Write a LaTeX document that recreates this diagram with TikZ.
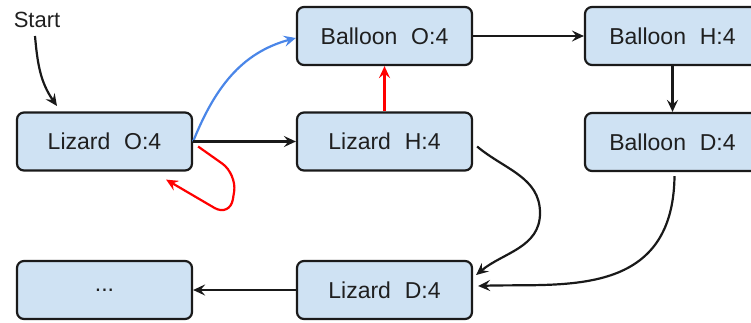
\documentclass[tikz,border=0pt]{standalone}
\usepackage{fontspec}
\setmainfont{Liberation Sans}
\usetikzlibrary{arrows.meta,calc}
\definecolor{boxfill}{HTML}{CFE2F3}
\definecolor{boxline}{HTML}{1A1A1A}
\definecolor{bluearc}{HTML}{4A86E8}
\definecolor{redarc}{HTML}{FF0000}
\begin{document}
\begin{tikzpicture}[x=1pt,y=-1pt,
  state/.style={draw=boxline,fill=boxfill,line width=2.2pt,rounded corners=7pt,
    minimum width=175pt,minimum height=58pt,inner sep=0pt,
    font=\fontsize{23}{26}\selectfont,text=black!88},
  arr/.style={line width=2.2pt,draw=black!90,
    -{Stealth[length=12pt,width=11pt,inset=4.5pt]}},
  bluetip/.style={-{Stealth[length=12pt,width=11pt,inset=4.5pt,color=bluearc]}},
  redtip/.style={-{Stealth[length=12pt,width=11pt,inset=4.5pt,color=redarc]}}]
\useasboundingbox (0,0) rectangle (751,322);
\clip (0,0) rectangle (751,322);

% states
\node[state] (LO) at (104.5,141.5) {Lizard\hspace{0.6em}O:4};
\node[state] (BO) at (384.5,36)    {Balloon\hspace{0.6em}O:4};
\node[state] (LH) at (384.5,141.5) {Lizard\hspace{0.6em}H:4};
\node[state] (BH) at (672.5,36)    {Balloon\hspace{0.6em}H:4};
\node[state] (BD) at (672.5,142)   {Balloon\hspace{0.6em}D:4};
\node[state] (LD) at (384.5,290)   {Lizard\hspace{0.6em}D:4};
\node[state] (DT) at (104.5,290)   {...};

% start marker
\node[font=\fontsize{22}{24}\selectfont,inner sep=0pt,text=black!88] (start) at (37,20) {Start};
\coordinate (startend) at (57,106);
\draw[arr] ($(start.south)+(-2,8)$) to[out=-85,in=125] (startend);

% transitions
\draw[arr,draw=bluearc,bluetip]
  (LO.east) to[out=68,in=195] ($(BO.west)+(0,2)$);
\draw[arr] (LO.east) -- (LH.west);
\coordinate (loopend) at ($(LO.south east)+(-27,8)$);
\draw[arr,draw=redarc,redtip,rounded corners=18pt]
  ($(LO.east)+(5,5)$) -- (237,174) -- (230,217) -- (loopend);
\draw[arr,draw=redarc,redtip] (LH.north) -- (BO.south);
\draw[arr] (BO.east) -- (BH.west);
\draw[arr] (BH.south) -- (BD.north);
\draw[arr] ($(LH.east)+(4,5)$) to[out=-40,in=90] (540,213)
  to[out=-90,in=40] ($(LD.east)+(3,-15)$);
\draw[arr] ($(BD.south)+(2,4)$) .. controls (673,300) and (560,283) .. ($(LD.east)+(5,-4)$);
\draw[arr] (LD.west) -- (DT.east);
\end{tikzpicture}
\end{document}
